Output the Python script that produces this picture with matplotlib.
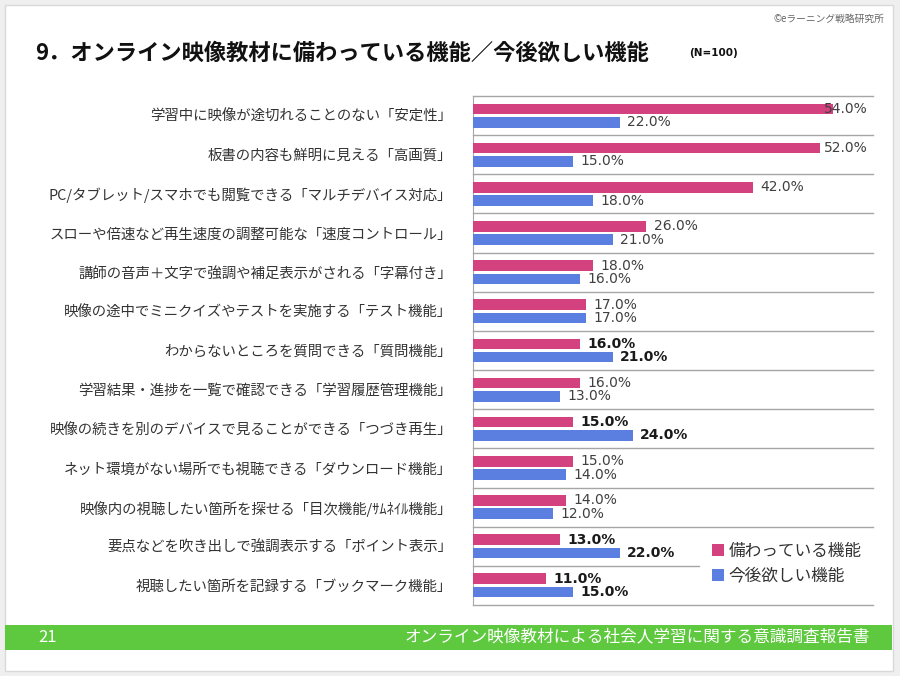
import matplotlib.pyplot as plt
from matplotlib.patches import Rectangle, Patch

plt.rcParams['font.family'] = ['Noto Sans CJK JP', 'DejaVu Sans']

# データ
カテゴリ = [
    "学習中に映像が途切れることのない「安定性」",
    "板書の内容も鮮明に見える「高画質」",
    "PC/タブレット/スマホでも閲覧できる「マルチデバイス対応」",
    "スローや倍速など再生速度の調整可能な「速度コントロール」",
    "講師の音声＋文字で強調や補足表示がされる「字幕付き」",
    "映像の途中でミニクイズやテストを実施する「テスト機能」",
    "わからないところを質問できる「質問機能」",
    "学習結果・進捗を一覧で確認できる「学習履歴管理機能」",
    "映像の続きを別のデバイスで見ることができる「つづき再生」",
    "ネット環境がない場所でも視聴できる「ダウンロード機能」",
    "映像内の視聴したい箇所を探せる「目次機能/ｻﾑﾈｲﾙ機能」",
    "要点などを吹き出しで強調表示する「ポイント表示」",
    "視聴したい箇所を記録する「ブックマーク機能」",
]
備わっている = [54, 52, 42, 26, 18, 17, 16, 16, 15, 15, 14, 13, 11]
今後欲しい = [22, 15, 18, 21, 16, 17, 21, 13, 24, 14, 12, 22, 15]
強調 = [False, False, False, False, False, False, True, False, True, False, False, True, True]
系列名 = ["備わっている機能", "今後欲しい機能"]

ピンク = "#d3417f"
青 = "#5b7fe1"
線色 = "#a6a6a6"

fig = plt.figure(figsize=(9, 6.76), dpi=100)
fig.patch.set_facecolor("#efefef")
W, H = 900, 676

def fx(px):
    return px / W

def fy(py):
    return 1 - py / H

# スライド背景
fig.patches.append(Rectangle((fx(5), fy(671)), fx(888), 666 / H, transform=fig.transFigure,
                             facecolor="white", edgecolor="#d9d9d9", lw=1, zorder=-2))
# フッター
fig.patches.append(Rectangle((fx(5), fy(650)), fx(887), 25 / H, transform=fig.transFigure,
                             facecolor="#5ec83e", edgecolor="none", zorder=-1))
fig.text(fx(38), fy(637), "21", color="white", fontsize=12, va="center", ha="left")
fig.text(fx(870), fy(637), "オンライン映像教材による社会人学習に関する意識調査報告書",
         color="white", fontsize=12, va="center", ha="right")

# タイトル
fig.text(fx(35), fy(53), "9．オンライン映像教材に備わっている機能／今後欲しい機能",
         fontsize=16, fontweight="bold", va="center", ha="left", color="#111111")
fig.text(fx(689), fy(53), "(N=100)", fontsize=7.5, fontweight="bold", va="center",
         ha="left", family="DejaVu Sans", color="#111111")
fig.text(fx(884), fy(19), "©eラーニング戦略研究所", fontsize=7, va="center", ha="right",
         color="#666666")

ax = fig.add_axes([fx(473), fy(605), fx(400), (605 - 96) / H])
ax.set_facecolor("none")

n = len(カテゴリ)
y = list(range(n))
h = 0.27
d = 0.17
ax.barh([v - d for v in y], 備わっている, height=h, color=ピンク, zorder=3)
ax.barh([v + d for v in y], 今後欲しい, height=h, color=青, zorder=3)

ax.set_xlim(0, 60)
ax.set_ylim(n - 0.5, -0.5)

for i in range(n):
    for val, off in ((備わっている[i], -d), (今後欲しい[i], d)):
        ax.text(min(val + 1.1, 52.6), i + off, f"{val:.1f}%", va="center", ha="left",
                family="DejaVu Sans", fontsize=10,
                fontweight="bold" if 強調[i] else "normal",
                color="#1a1a1a" if 強調[i] else "#404040", zorder=4)

# 区切り線
for k in range(n + 1):
    yy = k - 0.5
    xmax = (699 - 473) / 400 if k == n - 1 else 1
    ax.axhline(yy, xmin=0, xmax=xmax, color=線色, lw=1, zorder=2, clip_on=False)

for s in ["top", "right", "bottom"]:
    ax.spines[s].set_visible(False)
ax.spines["left"].set_color(線色)
ax.set_xticks([])
ax.set_yticks(y)
ax.set_yticklabels(カテゴリ, fontsize=10.4, color="#333333")
ax.tick_params(axis="y", length=0, pad=15)

handles = [Patch(facecolor=ピンク), Patch(facecolor=青)]
fig.legend(handles, 系列名, loc="upper left", bbox_to_anchor=(fx(712), fy(543)),
           frameon=False, fontsize=12, handlelength=0.7, handleheight=0.7,
           handletextpad=0.3, labelspacing=0.45, borderpad=0, borderaxespad=0,
           labelcolor="#333333")

fig.savefig("out.png", dpi=100, facecolor=fig.get_facecolor())
